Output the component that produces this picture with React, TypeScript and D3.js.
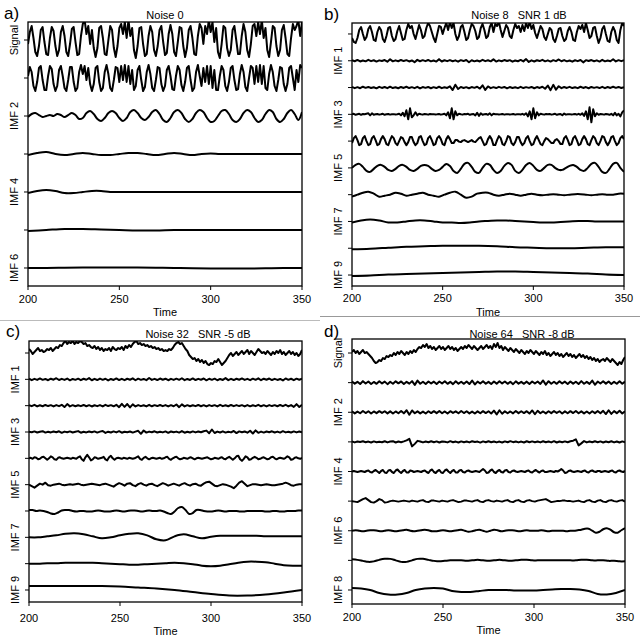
import React from 'react';
import * as d3 from 'd3';

// shared x axis
const timeTicks = [200, 250, 300, 350];
const timeDomain = [200, 350];

// ---- panel a : Noise 0 ----
const aNames = ['Signal', 'IMF 1', 'IMF 2', 'IMF 3', 'IMF 4', 'IMF 5', 'IMF 6'];
const aSignal = [
  -4, 8, 14, 2, -12, -16, -6, 10, 13, -2, -14, -15, 2, 13, 9, -6, -16, -10, 8, 14,
  4, -12, -16, -4, 11, 13, -2, -15, -14, 4, 16, 20, 6, 14, -4, 10, -8, -17, -8, 12,
  14, 2, -14, -15, 0, 14, 10, -8, -17, -6, 12, 16, 6, 18, 2, 20, 4, 12, -10, -18,
  -6, 12, 13, -4, -16, -14, 4, 14, 8, -10, -16, -6, 10, 14, -2, -15, -13, 6, 15, 6,
  -12, -16, -2, 13, 12, -6, -17, -8, 10, 14, 2, -14, -15, 4, 16, 12, -4, 14, 6, 20,
  8, 18, -2, 12, -12, -18, -4, 14, 12, -8, -16, -10, 10, 14, 0, -14, -14, 4, 16, 8,
  -10, -17, -4, 14, 16, 4, 18, 6, 20, 2, 12, -10, -17, -2, 14, 12, -6, -16, -10, 10,
  15, 2, -14, -16, 2, 16, 10, 14, 20, 4, 18,
];
const aImf1 = [
  2, 11, 6, -8, -13, -4, 10, 12, -2, -12, -12, 2, 12, 9, -6, -13, -8, 8, 12, 2,
  -10, -13, -2, 11, 11, -4, -13, -10, 6, 13, 4, 12, -2, 10, -6, -13, -6, 10, 12, -4,
  -13, -10, 6, 13, 4, -10, -13, -2, 11, 10, -4, 12, -2, 13, -4, 12, -6, 8, -12, -8,
  8, 12, -2, -13, -9, 6, 13, 4, -10, -13, -2, 11, 10, -6, -13, -8, 8, 12, 2, -11,
  -12, 2, 12, 8, -7, -13, -4, 10, 12, -2, -13, -10, 6, 13, 2, -8, 10, -4, 12, -6,
  12, -10, 8, -12, -12, 2, 12, 8, -8, -13, -4, 10, 12, -2, -12, -11, 4, 13, 6, -9,
  -13, 0, 12, 10, -6, 12, -4, 13, -6, 12, -10, -12, 4, 13, 6, -8, -13, -2, 11, 10,
  -6, -13, -6, 10, 12, 0, -12, 8, -4, 13, 10,
];
const aImf2 = [
  -1, 2, 3, 1, -1, 0, 1, 0, 2, 1, -1, 1, 3, 1, -3, -2, 3, 5, 2, -3,
  -5, -2, 3, 5, 3, -2, -5, -2, 4, 6, 3, -2, -4, -1, 4, 6, 2, -4, -6, -2,
  4, 6, 3, -3, -6, -3, 3, 6, 4, -2, -6, -5, 0, 5, 6, 2, -4, -6, -3, 3,
  6, 4, -2, -6, -4, 2, 6, 4, -3, -6, -3, 3, 6, 2, -4, 4,
];
const aImf3 = [-1, 1, 2, 0, -1, 0, 1, 0, -1, -1, 0, 1, 1, 0, -1, 0, 1, 0, -1, 0, 0.5, 0, 0, 0, 0, 0, 0, 0, 0, 0, 0];
const aImf4 = [-1, 1, 2, 1, -1, -1, 0, 1, 1, 0, 0, 0, 0, 0, 0, 0, 0, 0, 0, 0, 0, 0, 0, 0, 0, 0, 0, 0, 0, 0, 0];
const aImf5 = [-1, 0, 1, 1, 0.5, 0, -0.5, -0.5, 0, 0, 0, 0, 0, 0, 0, 0];
const aImf6 = [0, 0, 0.3, 0.5, 0.5, 0.5, 0.5, 0.3, 0, -0.3, -0.5, -0.5, -0.5, -0.3, 0, 0];

// ---- panel b : Noise 8, SNR 1 dB ----
const bNames = ['Signal', 'IMF 1', 'IMF 2', 'IMF 3', 'IMF 4', 'IMF 5', 'IMF 6', 'IMF 7', 'IMF 8', 'IMF 9'];
const bSignal = [
  -4, -8, -9, -4, 4, 7, 0, -6, -3, 5, 8, 2, -6, -7, 2, 7, 4, -5, -8, -2,
  6, 7, -2, -7, -5, 3, 8, 1, -6, -5, 4, 10, 6, 8, 0, -5, 2, 9, 4, -4,
  -2, 6, 11, 8, 2, -4, -8, 0, 8, 7, 0, 6, 11, 4, 12, 6, 11, 0, -6, -2,
  7, 9, 2, -6, -4, 4, 10, 8, 3, -5, -3, 6, 10, 4, -4, -2, 7, 11, 2, 10,
  8, 12, 4, -3, 3, 9, 6, -2, -4, 4, 10, 6, 8, 2, 9, 3, 11, 6, 12, 5,
  9, 1, -4, 2, 8, 5, -3, -6, 0, 6, 4, -5, -8, -2, 5, 6, -2, -7, -5, 3,
  7, 2, -6, -7, 2, 8, 5, 9, 2, 11, 4, -4, -2, 6, 7, -2, -9, -4, 5, 8,
  0, -7, -8, 2, 7, 3, -6, -9, 4, 11, 8,
];
const bImf1 = [
  0.6, -0.5, 0.8, -0.7, 0.3, -0.6, 0.9, -0.4, 0.5, -0.8, 0.4, -0.3, 0.7, -0.9, 1.5, -0.6, 0.4, -0.5, 0.8, -0.3,
  0.6, -0.7, 0.3, -1.4, 0.9, -0.5, 0.6, -0.4, 0.8, -0.6, 0.3, -0.8, 1.6, -0.7, 0.5, -0.4, 0.7, -0.5, 0.4, -0.9,
  0.6, -0.3, 0.8, -1.5, 0.5, -0.6, 0.3, -0.7, 0.9, -0.4, 0.5, -0.6, 1.4, -0.8, 0.4, -0.5, 0.7, -0.3, 0.6, -0.9,
  0.3, -0.5, 0.8, -0.6, 1.7, -1.2, 0.4, -0.7, 0.5, -0.3, 0.9, -0.6, 0.4, -0.8, 0.6, -0.4, 1.3, -0.5, 0.7, -0.6,
  0.3, -0.9, 0.5, -0.4, 0.8, -1.6, 0.6, -0.3, 0.7, -0.5, 0.4, -0.8, 0.9, -0.6, 0.3, -0.5, 1.5, -0.7, 0.6, -0.4,
  0.5,
];
const bImf2 = [
  0.5, -0.6, 0.4, -0.7, 0.8, -0.3, 0.6, -0.5, 0.3, -0.8, 0.7, -0.4, 0.5, -0.6, 0.9, -0.5, 0.3, -0.7, 0.6, -0.4,
  0.8, -0.5, 0.4, -0.6, 0.7, -0.9, 0.5, -0.3, 0.6, -0.7, 0.4, -0.5, 0.8, -0.6, 0.3, -0.4, 1.2, -2.5, 2.8, -1.4,
  0.6, -0.5, 0.4, -0.7, 0.5, -0.3, 0.8, -1.0, 2.2, -2.4, 1.1, -0.6, 0.4, -0.5, 0.7, -0.3, 0.6, -0.8, 0.5, -0.4,
  0.3, -0.6, 0.7, -0.5, 0.4, -0.3, 0.6, -0.7, 0.5, -0.4, 0.8, -1.2, 2.0, -2.6, 2.7, -2.1, 1.3, -0.6, 0.5, -0.4,
  0.7, -0.5, 0.3, -0.6, 0.8, -0.4, 0.5, -0.7, 0.6, -0.3, 0.4, -0.5, 0.7, -0.6, 0.5, -0.4, 0.8, -0.3, 0.6, -0.5,
  0.4,
];
const bImf3 = [
  0, 0.5, -0.5, 0, 0.5, -0.5, 0.3, 0, 0.5, 1, -1, 1, -0.5, 0, 0.3, -0.3, 0, 0.5, -0.5, 0,
  0.3, -0.3, 0, 0.2, -0.2, 0, 0.5, -1, 1.5, -2, 4, -5, 6, -3, -1, 2, -1, 0.5, 0, -0.3,
  0.3, 0, -0.3, 0.3, 0, 0.2, -0.2, 0, 0.3, -0.3, 0, 0.5, -1, 2, -4, 6, -5, 3, -1, 0.5,
  0, -0.3, 0.3, 0, 0.5, -0.5, 0, 0.3, -1, 1.5, -1.5, 1, -0.5, 0, 0.3, -0.5, 1, -1, 0.5, 0,
  0.2, -0.2, 0, 0.3, -0.3, 0, 0.2, -0.2, 0, 0.3, -0.3, 0, 0.2, -0.2, 0.5, -0.5, 1, -2, 3, -5,
  6, -4, 2, -1, 0.5, 0, -0.3, 0.3, 0, 0.3, -0.3, 0, 0.5, -0.5, 0, 0.3, -0.8, 0.8, -0.3, 0,
  0.2, -0.2, 0, 0.3, -0.3, 0.5, -0.5, 1, -1.5, 3, -5, 7, -8, 5, -2, 1, -0.5, 0.3, 0, -0.3,
  0.3, 0, -0.5, 0.5, -1, 1.5, -1, 0.5, -2, 2, 4,
];
const bImf4 = [
  -2, 3, 5, 1, -4, -3, 3, 5, 0, -4, -3, 3, 5, 1, -4, -3, 2, 5, 2, -3,
  -4, 1, 5, 3, -2, -4, 0, 4, 3, -1, -4, -1, 4, 4, -1, -4, -2, 4, 5, 0,
  -4, -3, 3, 5, 1, -4, -3, 3, 5, 2, -3, -4, 2, 5, 2, -2, -2, 1, 1, -0.5,
  -1, 0.5, 1, 0, -1, 0, 1, -0.5, -1, 1, 3, 4, 0, -4, -3, 2, 5, 2, -4, -4,
  1, 5, 3, -3, -4, 0, 5, 4, -2, -4, -1, 4, 4, -1, -4, -2, 3, 5, 0, -4,
  -3, 2, 5, 1, -3, -4, 0, 3, 2, 0, -2, -2, 1, 2, 0, -3, -3, 3, 5, 1,
  -4, -3, 3, 5, 1, -4, -3, 2, 5, 2, -3, -4, 1, 5, 3, -2, -4, 0, 5, 4,
  -1, -4, -1, 4, 5, 0, -4, -2, 3, 5, 2,
];
const bImf5 = [
  0, 3, 4, 1, -3, -4, -1, 2, 3, 1, -2, -3, -1, 2, 3, 1, -2, -3, -1, 2,
  3, 2, -1, -3, -2, 1, 4, 2, -3, -5, -1, 4, 5, 1, -4, -5, 0, 4, 3, -2,
  -5, -3, 2, 5, 3, -3, -5, -2, 3, 5, 2, -2, -3, 0, 3, 3, 0, -2, -2, 0,
  2, 3, 1, -2, -3, 0, 4, 5, 1, -4, -5, -1, 4, 5, 0, -4,
];
const bImf6 = [
  -2, 0, 2, 3, 1, -2, -1, 0, 2, 1, -1, 0, 1, 2, 0, -1, -2, 0, 2, 3,
  0, -3, -2, 1, 2, 2, 0, -1, 0, 1, 0, -1, 0, 1, 0, -0.5, 0, 0.5, 0, -0.5,
  0, 0.5, 0.5, 0, -0.5, 0, 0.5, 0, 0, 1, 1,
];
const bImf7 = [-1, 1, 2, 1, -1, -1, 0, 1, 1, 0, -1, -1, -1.5, -1, 0, 0.5, 1, 1, 0.5, 0, -0.5, -1, -1, -0.5, 0, 0.5, 0.5, 0, 0, 0, 0];
const bImf8 = [-1, -0.5, 0.5, 1.5, 2, 2.5, 2.5, 2.5, 2, 1, 0.5, 0, 0, 0.5, 1, 1];
const bImf9 = [-1, -0.5, 0.5, 1, 1.5, 2, 2.5, 3, 3.5, 3.5, 3, 2.5, 2, 1.5, 0.5, 0];

// ---- panel c : Noise 32, SNR -5 dB ----
const cNames = bNames;
const cSignal = [
  4, 2, -1, 1, 3, 5, 2, 3, 1, 2, 4, 3, 5, 2, 4, 6, 5, 8, 7, 10,
  12, 9, 11, 10, 12, 9, 11, 10, 12, 11, 9, 10, 7, 8, 6, 5, 7, 4, 6, 3,
  5, 2, 4, 3, 5, 2, 6, 4, 3, 5, 4, 6, 3, 7, 5, 8, 6, 9, 11, 12,
  9, 10, 8, 9, 7, 8, 6, 7, 5, 6, 4, 5, 3, 4, 2, 3, 2, 4, 3, 5,
  8, 10, 11, 9, 10, 7, 4, 2, -2, -4, -6, -5, -8, -6, -9, -7, -10, -8, -11, -12,
  -10, -11, -8, -9, -6, -9, -12, -10, -8, -5, -2, 0, -3, -1, 1, -2, 0, 2, -1, 1,
  3, -1, 2, 0, -2, 1, 4, 2, 0, 1, -1, 2, 0, -2, 1, -1, 2, 0, 3, -1,
  1, -2, 0, 2, -1, 1, -2, 0, -3, -1, 3,
];
const cImf1 = [
  0.7, -0.8, 0.5, -0.6, 0.9, -0.5, 0.4, -0.9, 0.6, -0.4, 1.1, -0.7, 0.5, -0.6, 0.8, -1.0, 0.4, -0.5, 0.7, -0.8,
  0.6, -0.4, 1.2, -0.9, 0.5, -0.7, 0.8, -0.5, 0.6, -1.1, 0.4, -0.6, 0.9, -0.7, 0.5, -0.8, 0.6, -0.4, 1.0, -0.9,
  0.7, -0.5, 0.4, -0.8, 1.3, -0.6, 0.5, -0.7, 0.8, -0.4, 0.6, -0.9, 0.5, -0.6, 0.7, -0.5, 1.1, -0.8, 0.4, -0.6,
  0.9, -0.7, 0.5, -0.4, 0.8, -1.0, 0.6, -0.5, 0.7, -0.9, 0.4, -0.6, 1.2, -0.8, 0.5, -0.7, 0.6, -0.4, 0.9, -0.6,
  0.5, -0.8, 0.7, -0.5, 1.0, -0.9, 0.6, -0.4, 0.8, -0.7, 0.5, -0.6, 0.4, -1.1, 0.9, -0.5, 0.6, -0.8, 0.7, -0.4,
  0.6,
];
const cImf2 = [
  0.6, -0.5, 0.8, -0.7, 0.4, -0.6, 0.7, -0.4, 0.5, -0.8, 0.6, -0.5, 0.9, -1.4, 1.6, -0.7, 0.5, -0.6, 0.4, -0.5,
  0.7, -0.6, 0.5, -0.8, 0.4, -0.5, 0.6, -0.7, 0.8, -0.4, 0.5, -0.6, 0.9, -1.5, 1.8, -1.2, 1.6, -1.7, 1.3, -0.8,
  0.6, -0.5, 0.4, -0.7, 0.8, -0.6, 0.5, -0.4, 0.7, -0.5, 0.6, -0.8, 0.5, -0.6, 1.2, -1.5, 1.3, -0.7, 0.5, -0.6,
  0.4, -0.5, 0.7, -0.6, 0.5, -0.8, 0.6, -0.4, 0.5, -0.7, 0.8, -0.5, 0.4, -0.6, 0.7, -0.5, 0.6, -0.4, 0.5, -0.8,
  0.6, -0.7, 0.4, -0.5, 0.8, -0.6, 0.5, -0.7, 0.6, -0.4, 0.5, -0.6, 0.7, -0.5, 0.9, -0.8, 0.6, -1.2, 1.5, -1.3,
  1.0,
];
const cImf3 = [
  0.4, -0.3, 0.6, -0.5, 0.3, 0.8, -0.6, 0.2, -0.4, 0.5, -0.3, 0.7, -0.8, 0.4, -0.2, 0.6, -0.5, 0.3, 0.9, -0.7,
  0.2, -0.4, 0.5, -0.3, 0.6, -0.6, 0.4, 1.0, -0.9, 0.3, -0.5, 0.6, -0.4, 0.8, -0.7, 0.3, -0.2, 0.5, -0.6, 0.4,
  1.2, -1.8, 1.5, -0.6, 0.4, -0.3, 0.7, -0.5, 0.3, -0.4, 0.6, -0.8, 0.5, -0.3, 0.4, -0.6, 0.9, -0.7, 0.3, -0.5,
  0.6, -0.4, 0.5, -0.3, 0.8, 1.4, -1.2, 2.5, -1.0, 0.4, -0.5, 0.7, -0.6, 0.3, -0.4, 1.0, -1.1, 0.6, -0.3, 0.5,
  -0.7, 1.3, -1.5, 1.6, -0.8, 0.4, -0.6, 0.5, -0.3, 0.7, -0.5, 0.4, -0.6, 0.8, -0.4, 0.3, -0.5, 0.6, -0.4, 0.5,
  -0.3,
];
const cImf4 = [
  0, 0.5, -0.5, 1, 0.5, -1, -0.5, 1, 1.5, 0, -1.5, 0, 2, 1, -1, -1.5, 0.5, 1, 0, -0.5,
  0, 0.5, 0, -0.5, 0.5, 0, -0.5, 1, 2, -1, -2.5, 1, 3.5, 1, -2, -1, 1, 0.5, -0.5, 0,
  0.5, 1.5, -1, -2, 1, 2.5, 0, -1.5, 0, 0.5, 0, -0.5, 0.5, 0, -0.5, 0.5, 0, -0.5, 0, 1,
  2, -0.5, -1.5, 0.5, 1.5, 0, -1, 0, 0.5, 0, -0.5, 0, 0.5, -0.5, 0, 1, 1.5, -0.5, -1.5, 0,
  1, 1.5, 0, -1, -0.5, 0.5, 0, -0.5, 0.5, 1, 0, -1, 0, 0.5, 0, -0.5, 0, 0.5, 1, 0,
  -1, -0.5, 0.5, 0, -0.5, 0.5, 1, -0.5, -1, 0.5, 1.5, 0, -1.5, 0, 2, 2.5, -1, -2.5, -0.5, 2,
  1, -1.5, -1, 0.5, 1.5, 0.5, -1, -0.5, 0.5, 1, 0, -1, -0.5, 1, 1.5, 0, -1, 0, 0.5, 0,
  -0.5, 0.5, 2, 1, -1.5, -1, 0.5, 1, 0, -0.5, 0.5,
];
const cImf5 = [
  0, -1.5, -3, -1, 1, 0, 2, -0.5, -1, 0, 0.5, 1, 0, -0.5, 0, 0.5, 0, 0.5, 1, 0,
  -0.5, 0, 0.5, 1, 0.5, 0, -0.5, 0.5, 1, 0, -1, -2, 0, 1.5, 0.5, -1, 1, 1.5, -0.5, -1.5,
  0.5, 1.5, 0, -1, 0.5, 1, -0.5, -1.5, 0, 1.5, 0.5, -1, 0, 1, 0, -1, 0.5, 1.5, 0, -1,
  0.5, 1, -0.5, -1, 1, 2.5, 3, 1, -1, -1.5, -0.5, 0.5, 0, -1, -2, -3.5, -1, 2, 3.5, 1,
  -1.5, -0.5, 0.5, 0.5, 0, -0.5, 0, 0.5, 0, -0.5, -0.5, 0, 0.5, 1, 2, 1, -0.5, -1, 0, 0.5,
  0.5,
];
const cImf6 = [
  1, 1, 0, 0.5, 0, -1, -2.5, -3, -1.5, 0.5, 1, 1, 0, -0.5, 0, 0, -0.5, -0.5, 0, 0.5,
  0, -0.5, -0.5, 0, 0.5, 0, -0.5, 0, 0.5, 0.5, 0, -0.5, 0, 0.5, 0, 0, 0.5, -0.5, -2, -3,
  -0.5, 3, 4, 1, -3, -2, 1, 1, 0, -0.5, -0.5, 0, 0.5, 0, -0.5, 0, 0, 0, -0.5, -0.5,
  0, 0, 0, 0, 0, -0.5, -0.5, 0, 0, -0.5, -0.5, 0, 0, 0, 0.5, 0.5,
];
const cImf7 = [0, 0, 1, 2, 3.5, 4, 3, 1, -1, 0, 2, 3.5, 4, 2, -2, -3, 1, 3, 1, -1, 0.5, 1.5, 1.5, 1.5, 1.5, 1.5, 1, 1, 1, 1, 1];
const cImf8 = [0, 0, 0.5, 0.5, 1, 1, 1, 1, 0.5, 0, -0.5, -1, -1, -0.5, 0, 0.5, 1, 0.5, -0.5, -2, -2.5, -2, -0.5, 1, 2, 2, 1.5, 0, -1.5, -2, -2];
const cImf9 = [4, 4, 4, 4, 4, 3.5, 2.5, 1.5, 0, -2, -4, -5.5, -5.5, -4.5, -2.5, 0];

// ---- panel d : Noise 64, SNR -8 dB ----
const dNames = ['Signal', 'IMF 1', 'IMF 2', 'IMF 3', 'IMF 4', 'IMF 5', 'IMF 6', 'IMF 7', 'IMF 8'];
const dSignal = [
  1, 3, 0, 2, -1, 1, 3, 0, 1, -1, -3, -5, -8, -10, -9, -7, -8, -5, -6, -3,
  -4, -2, -3, 0, -2, 1, -1, 2, 0, -2, 1, -1, 2, 0, 3, 1, 4, 6, 5, 8,
  6, 9, 5, 7, 4, 6, 3, 5, 7, 4, 6, 3, 5, 7, 4, 6, 3, 5, 2, 4,
  6, 4, 7, 5, 8, 6, 4, 7, 5, 3, 5, 7, 4, 6, 8, 5, 7, 4, 9, 6,
  10, 5, 7, 3, 6, 4, 2, 5, 3, 1, 4, 2, 0, 3, 1, -1, 2, 0, 3, 1,
  -1, 2, 0, -2, 1, -1, 2, -2, 0, -3, -1, 1, -2, 0, -3, -1, -4, -2, 0, -3,
  -1, -4, -2, -5, -3, -1, -4, -2, -5, -3, -6, -4, -7, -5, -8, -6, -9, -7, -6, -8,
  -5, -7, -9, -6, -8, -10, -12, -9, -11, -7, -4,
];
const dImf1 = [
  1.2, -1.0, 0.8, -1.4, 1.5, -0.9, 1.1, -1.3, 0.7, -1.2, 1.4, -0.8, 1.0, -1.5, 0.9, -1.1, 1.3, -0.7, 1.2, -1.4,
  0.8, -1.0, 1.5, -2.2, 2.0, -1.1, 0.9, -1.3, 1.2, -0.8, 1.0, -1.4, 1.1, -0.9, 1.3, -1.2, 0.8, -1.5, 1.4, -1.0,
  0.9, -1.2, 1.1, -1.4, 2.1, -1.8, 1.0, -0.9, 1.3, -1.1, 0.8, -1.3, 1.2, -1.0, 1.4, -0.8, 1.1, -1.2, 0.9, -1.5,
  1.3, -1.0, 0.8, -1.2, 1.0, -1.4, 1.2, -0.9, 1.1, -1.3, 2.2, -2.0, 1.4, -1.1, 0.9, -1.2, 1.3, -0.8, 1.0, -1.4,
  1.2, -1.0, 0.9, -1.3, 1.5, -1.1, 0.8, -1.2, 2.0, -2.1, 1.1, -0.9, 1.3, -1.0, 1.2, -1.4, 0.8, -1.1, 1.4, -1.2,
  1.0,
];
const dImf2 = [
  0.9, -1.1, 0.7, -1.0, 1.2, -0.8, 1.0, -1.2, 0.8, -0.9, 1.1, -0.7, 1.0, -1.1, 0.9, -1.2, 0.8, -1.0, 1.3, -1.1,
  2.0, -2.5, 1.8, -1.0, 0.9, -1.1, 0.7, -1.2, 1.0, -0.8, 1.1, -0.9, 1.2, -1.0, 0.8, -1.3, 1.1, -0.7, 0.9, -1.0,
  1.2, -0.8, 1.0, -1.1, 0.7, -1.2, 0.9, -1.0, 1.1, -0.8, 1.0, -1.2, 1.6, -2.2, 2.0, -1.5, 0.9, -1.0, 0.8, -1.1,
  1.2, -0.9, 1.0, -0.8, 1.1, -1.3, 1.8, -2.0, 1.5, -1.0, 0.8, -1.1, 1.0, -0.9, 1.2, -0.7, 1.0, -1.2, 0.9, -1.0,
  1.1, -0.8, 1.3, -1.0, 0.9, -1.1, 0.8, -1.2, 1.0, -0.9, 1.2, -1.0, 1.4, -1.8, 2.0, -1.6, 1.1, -0.9, 1.5, -1.3,
  1.0,
];
const dImf3 = [
  0.3, -0.5, 0.4, -0.2, 0.6, -0.4, 0.3, -0.6, 0.5, -0.3, 0.2, -0.4, 0.6, -0.5, 0.3, 0.7, -0.6, 0.4, -0.3, 0.5,
  1.5, 3.0, -4.5, -2.0, 1.0, 0.4, -0.5, 0.3, -0.4, 0.6, -0.3, 0.5, -0.6, 0.4, 0.2, -0.5, 0.7, -0.4, 0.3, -0.6,
  0.5, -0.3, 0.4, -0.5, 0.6, -0.2, 0.3, -0.7, 0.5, -0.4, 0.6, -0.3, 0.4, -0.5, 0.3, -0.6, 0.5, -0.4, 0.7, -0.3,
  0.4, -0.5, 0.3, -0.6, 0.6, -0.4, 0.5, -0.3, 0.4, -0.5, 0.6, -0.4, 0.3, -0.5, 0.7, -0.6, 0.4, -0.3, 0.5, -0.4,
  0.6, 1.2, 2.5, -3.5, -1.5, 0.8, -0.5, 0.3, -0.4, 0.6, -0.3, 0.5, -0.6, 0.4, -0.3, 0.6, -0.5, 0.4, -0.6, 0.5,
  -0.3,
];
const dImf4 = [
  0, 0.5, 0, -0.5, 0, 0.5, 0, -0.5, 0.5, 1, -0.5, -1, 0.5, 1.5, 0, -1.5, 0.5, 1.5, -1, -1.5,
  1, 1.5, -0.5, -1.5, 1, 2, 0, -1.5, 0.5, 1.5, -1, -1, 1, 0.5, -0.5, 0, 0.5, 0, -0.5, 0.5,
  1, -0.5, -1.5, 1, 2, -0.5, -1.5, 0.5, 1.5, -1, -1.5, 1, 2, 0, -1.5, 0.5, 1.5, -1, -1, 1,
  1.5, -0.5, -1, 0.5, 1, 0, -0.5, 0, 0.5, 0, -0.5, 1, 2.5, 1, -1.5, -1, 1, 2, -0.5, -1.5,
  0.5, 1.5, -0.5, -1, 1, 1.5, -0.5, -1, 0.5, 1, 0, -0.5, 0, 0.5, 0, -0.5, 0.5, 1, -0.5, -1,
  0.5, 1.5, 0, -1, 0.5, 1, -0.5, -0.5, 0, 0.5, 0, -0.5, 0.5, 0, 1, 2.5, 1, -1.5, -1, 0.5,
  1, 0, -0.5, 0, 0.5, 0, -0.5, 0.5, 1, -0.5, -1, 0.5, 1, 0, -0.5, 0.5, 0.5, -0.5, 0, 0.5,
  0, -0.5, 0.5, 1, -0.5, -1, 0.5, 1, 0, -0.5, 0.5,
];
const dImf5 = [
  0, -0.5, -1, 0.5, 2, 3, 1, -1, -1.5, 0, 2, 1, -1.5, -1, 0, 0.5, 0, -0.5, 0, 0.5,
  0, -0.5, 0.5, 0, -0.5, 0.5, 1, -0.5, -1, 0.5, 0.5, 0, -0.5, 0.5, 0, -0.5, 0.5, 1, 0, -1,
  -0.5, 0.5, 0.5, 0, -0.5, 0.5, 1, -0.5, -1, 0.5, 1, 0, -0.5, 0.5, 0, -0.5, 0.5, 1, -0.5, -1,
  0.5, 1, -0.5, -1, 0.5, 1, 0, -0.5, 0.5, 1, 1.5, 2, 0.5, -1, -0.5, 0, 0, 0.5, 0.5, 0,
  0, -0.5, 0, 0.5, -0.5, -1, 0.5, 1, -0.5, -1, 0.5, 1, -0.5, -1, 0.5, 1, 0, -0.5, 0.5, 1,
  -0.5,
];
const dImf6 = [
  0, 0.5, 0, -0.5, 0, 0.5, 0.5, 0, -0.5, 0, 0.5, 0, -0.5, 0, 0.5, 1, 0, -0.5, 0, 0.5,
  1, 0.5, -0.5, -0.5, 0, 0.5, 0, -0.5, 0, 0.5, 1, 0, -1, -0.5, 0.5, 1, 0, -1, 0, 1,
  0.5, -0.5, 0, 0.5, 0.5, 0, -0.5, 0, 0.5, 0, 0, 0, 0.5, 0, -0.5, 0, 0, 0, 0, -0.5,
  0, 0, 0.5, 1, 2, 2, 0, -2, -1, 1.5, 2.5, 1, -1.5, -2, 0.5, 2.5,
];
const dImf7 = [
  1, 0.5, -0.5, -1.5, -1, 0.5, 1.5, 1.5, 0, -1.5, -1.5, 0, 1.5, 1.5, 0.5, -0.5, -1, -0.5, 0, 0,
  0, -0.5, 0, 0.5, 0, -0.5, 0, 0.5, 0, -0.5, 0, 0.5, 0.5, 0, 0, 0, 0, 0, 0, 0,
  0, 0, 0.5, 0.5, 0, 0, 0, -0.5, -0.5, -1, -1,
];
const dImf8 = [2, 1.5, 0, -3, -4.5, -4.5, -3, 0, 1.5, 2, 1.5, -1, -2, -2, -1, 0, 0, 0, -0.5, -0.5, -0.5, 0, 0.5, 1, 1, 0.5, -1, -4, -4.5, -3, 0];

type Panel = {
  key: string;
  letter: string;
  title: string;
  names: string[];
  series: number[][];
  shown: string[];
  // layout
  x0: number; x1: number; y0: number; y1: number; pad: number;
  letterX: number; letterY: number; titleX: number; titleY: number;
  tickY: number; timeY: number;
};

const panels: Panel[] = [
  {
    key: 'a', letter: 'a)', title: 'Noise 0', names: aNames,
    series: [aSignal, aImf1, aImf2, aImf3, aImf4, aImf5, aImf6],
    shown: ['Signal', 'IMF 2', 'IMF 4', 'IMF 6'],
    x0: 28, x1: 302, y0: 22, y1: 286, pad: 0.474,
    letterX: 4, letterY: 19, titleX: 165, titleY: 18.5, tickY: 303, timeY: 316,
  },
  {
    key: 'b', letter: 'b)', title: 'Noise 8   SNR 1 dB', names: bNames,
    series: [bSignal, bImf1, bImf2, bImf3, bImf4, bImf5, bImf6, bImf7, bImf8, bImf9],
    shown: ['IMF 1', 'IMF 3', 'IMF 5', 'IMF 7', 'IMF 9'],
    x0: 352, x1: 624, y0: 23, y1: 286, pad: 0.41,
    letterX: 324, letterY: 20, titleX: 519, titleY: 19.3, tickY: 302, timeY: 316,
  },
  {
    key: 'c', letter: 'c)', title: 'Noise 32   SNR -5 dB', names: cNames,
    series: [cSignal, cImf1, cImf2, cImf3, cImf4, cImf5, cImf6, cImf7, cImf8, cImf9],
    shown: ['IMF 1', 'IMF 3', 'IMF 5', 'IMF 7', 'IMF 9'],
    x0: 29, x1: 302, y0: 341, y1: 602, pad: 0.456,
    letterX: 6, letterY: 337, titleX: 198, titleY: 338, tickY: 622, timeY: 635,
  },
  {
    key: 'd', letter: 'd)', title: 'Noise 64   SNR -8 dB', names: dNames,
    series: [dSignal, dImf1, dImf2, dImf3, dImf4, dImf5, dImf6, dImf7, dImf8],
    shown: ['Signal', 'IMF 2', 'IMF 4', 'IMF 6', 'IMF 8'],
    x0: 352, x1: 625, y0: 339, y1: 604, pad: 0.473,
    letterX: 324, letterY: 337, titleX: 522, titleY: 338, tickY: 621, timeY: 634,
  },
];

const font = 'Liberation Sans, Arial, Helvetica, sans-serif';

function PanelView({ p }: { p: Panel }) {
  const x = d3.scaleLinear().domain(timeDomain).range([p.x0, p.x1]);
  const y = d3.scalePoint<string>().domain(p.names).range([p.y0, p.y1]).padding(p.pad);
  const amp = d3.scaleLinear().domain([-10, 10]).range([10, -10]);
  const clipId = `clip-${p.key}`;

  const path = (vals: number[], base: number) => {
    const n = vals.length - 1;
    const gen = d3
      .line<number>()
      .x((_, i) => x(timeDomain[0] + ((timeDomain[1] - timeDomain[0]) * i) / n))
      .y((v) => base + amp(v))
      .curve(vals.length > 90 ? d3.curveLinear : d3.curveCatmullRom);
    return gen(vals) || '';
  };

  return (
    <g>
      <defs>
        <clipPath id={clipId}>
          <rect x={p.x0} y={p.y0} width={p.x1 - p.x0} height={p.y1 - p.y0} />
        </clipPath>
      </defs>
      <g clipPath={`url(#${clipId})`}>
        {p.series.map((vals, i) => (
          <path
            key={i}
            d={path(vals, y(p.names[i]) as number)}
            fill="none"
            stroke="#000"
            strokeWidth={2}
            strokeLinejoin="round"
          />
        ))}
      </g>
      <rect x={p.x0} y={p.y0} width={p.x1 - p.x0} height={p.y1 - p.y0} fill="none" stroke="#000" strokeWidth={1.3} />
      {/* y ticks + alternating labels */}
      {p.names.map((name) => {
        const yy = y(name) as number;
        return (
          <g key={name}>
            <line x1={p.x0 - 4} x2={p.x0} y1={yy} y2={yy} stroke="#000" strokeWidth={1} />
            {p.shown.includes(name) && (
              <text
                transform={`translate(${p.x0 - 10},${yy}) rotate(-90)`}
                textAnchor="middle"
                fontSize={11}
                fontFamily={font}
              >
                {name}
              </text>
            )}
          </g>
        );
      })}
      {/* x ticks */}
      {timeTicks.map((t) => (
        <g key={t}>
          <line x1={x(t)} x2={x(t)} y1={p.y1} y2={p.y1 + 4} stroke="#000" strokeWidth={1} />
          <text x={x(t)} y={p.tickY} textAnchor="middle" fontSize={11} fontFamily={font}>
            {t}
          </text>
        </g>
      ))}
      <text x={(p.x0 + p.x1) / 2} y={p.timeY} textAnchor="middle" fontSize={11} fontFamily={font}>
        Time
      </text>
      <text x={p.titleX} y={p.titleY} textAnchor="middle" fontSize={11} fontFamily={font} style={{ whiteSpace: 'pre' }}>
        {p.title}
      </text>
      <text x={p.letterX} y={p.letterY} fontSize={17} fontFamily={font}>
        {p.letter}
      </text>
    </g>
  );
}

export default function App() {
  return (
    <svg
      width={640}
      height={642}
      style={{ position: 'absolute', left: 0, top: 0, background: '#fff' }}
    >
      <line x1={0} x2={320} y1={320.5} y2={320.5} stroke="#bbb" />
      <line x1={320} x2={640} y1={316.5} y2={316.5} stroke="#999" />
      {panels.map((p) => (
        <PanelView key={p.key} p={p} />
      ))}
    </svg>
  );
}
